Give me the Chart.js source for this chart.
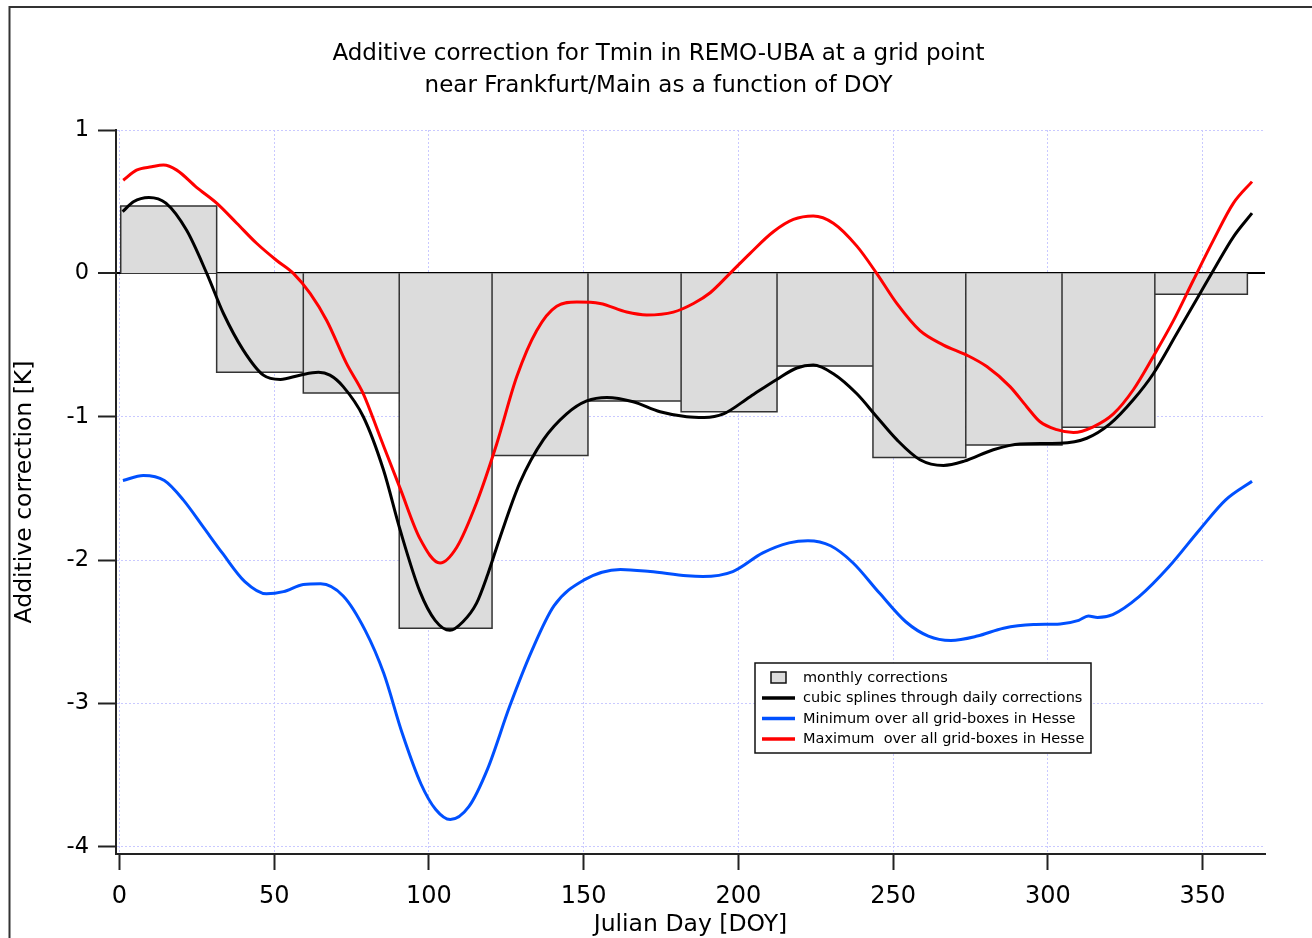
<!DOCTYPE html>
<html><head><meta charset="utf-8">
<script src="https://cdn.jsdelivr.net/npm/chart.js@4/dist/chart.umd.min.js"></script>
<style>html,body{margin:0;padding:0;background:#fff;overflow:hidden}canvas{display:block}</style>
</head><body><canvas id="c" width="1312" height="938"></canvas>
<script>
// ---------------- data ----------------
const titleLines = ["Additive correction for Tmin in REMO-UBA at a grid point", "near Frankfurt/Main as a function of DOY"];
const xTitle = "Julian Day [DOY]";
const yTitle = "Additive correction [K]";
const legendLabels = ["monthly corrections", "cubic splines through daily corrections", "Minimum over all grid-boxes in Hesse", "Maximum  over all grid-boxes in Hesse"];

// month boundaries (DOY) and monthly correction values (K)
const monthEdges = [0.4, 31.4, 59.4, 90.4, 120.4, 151.4, 181.5, 212.5, 243.5, 273.5, 304.6, 334.6, 364.5];
const monthlyCorrections = [0.47, -0.69, -0.835, -2.475, -1.27, -0.89, -0.965, -0.646, -1.285, -1.197, -1.074, -0.146];

const splineDays = [1, 4.5, 9.5, 15, 21.7, 28.2, 33.6, 40, 46.5, 52, 58.3, 64.3, 68, 72.3, 78.8, 85.3, 90.7, 97.1, 102, 106.8, 111, 115.4, 119, 123, 129.4, 137, 144.5, 151, 157.5, 166, 174.7, 183.3, 189, 195.2, 203.8, 212.4, 218.9, 224.2, 230.7, 238.3, 244.7, 251.2, 258.7, 266.3, 273, 282.4, 291, 303.9, 312.6, 320.1, 327.7, 334.1, 341.7, 349.2, 353.5, 360, 366];
const splineValues = [0.43, 0.50, 0.53, 0.49, 0.30, 0.0, -0.28, -0.535, -0.71, -0.74, -0.71, -0.69, -0.71, -0.79, -1.0, -1.37, -1.79, -2.22, -2.42, -2.49, -2.43, -2.30, -2.10, -1.84, -1.46, -1.16, -0.98, -0.89, -0.865, -0.895, -0.965, -1.0, -1.005, -0.98, -0.86, -0.74, -0.66, -0.64, -0.70, -0.84, -1.0, -1.16, -1.30, -1.34, -1.31, -1.23, -1.19, -1.185, -1.15, -1.05, -0.88, -0.70, -0.42, -0.14, 0.02, 0.255, 0.42];

const minDays = [1.1, 7.7, 14.5, 20.6, 27.1, 33.2, 40.5, 47.5, 53, 59.4, 65, 72.3, 79.4, 85.4, 91.4, 97.4, 102.2, 106.9, 112.9, 118.9, 126.1, 133.3, 140.4, 150, 161.9, 171.5, 183.4, 188.5, 198.2, 207.9, 216.4, 222.5, 229.8, 237.1, 245.6, 254.1, 261.4, 268.7, 277.2, 285.7, 295.4, 304, 310, 313.1, 316.1, 321, 329.5, 339.2, 349, 357.5, 366];
const minValues = [-1.445, -1.41, -1.445, -1.58, -1.77, -1.95, -2.15, -2.235, -2.22, -2.17, -2.165, -2.25, -2.49, -2.79, -3.21, -3.56, -3.74, -3.81, -3.72, -3.46, -3.02, -2.63, -2.32, -2.14, -2.065, -2.08, -2.11, -2.115, -2.08, -1.95, -1.88, -1.865, -1.90, -2.02, -2.23, -2.43, -2.53, -2.56, -2.53, -2.475, -2.45, -2.445, -2.42, -2.39, -2.40, -2.38, -2.255, -2.045, -1.79, -1.58, -1.45];

const maxDays = [1.2, 5.5, 10.4, 14.2, 18.5, 24.9, 31.4, 37.9, 44.3, 50.8, 56.2, 61.6, 67, 73.4, 78.8, 84.2, 90.7, 97.1, 103.6, 109, 115.4, 121.9, 128.4, 134.8, 141.3, 147.8, 155.3, 163.9, 170.4, 179, 185.5, 190.9, 197.3, 203.8, 211.3, 217.8, 224.2, 230.7, 238.3, 244.7, 251.2, 258.7, 266.3, 273.8, 280.3, 287.8, 293.2, 297.5, 302.9, 308.3, 314.7, 321.2, 327.7, 334.1, 340.6, 347, 353.5, 360, 366];
const maxValues = [0.65, 0.72, 0.743, 0.755, 0.72, 0.60, 0.49, 0.35, 0.21, 0.09, 0.0, -0.14, -0.33, -0.63, -0.84, -1.14, -1.50, -1.85, -2.02, -1.91, -1.60, -1.19, -0.72, -0.40, -0.23, -0.20, -0.21, -0.27, -0.29, -0.27, -0.21, -0.135, 0.0, 0.14, 0.29, 0.376, 0.40, 0.35, 0.19, 0.0, -0.21, -0.40, -0.50, -0.57, -0.65, -0.79, -0.93, -1.035, -1.09, -1.11, -1.07, -0.98, -0.81, -0.58, -0.33, -0.05, 0.23, 0.49, 0.64];

const xTicks = [0, 50, 100, 150, 200, 250, 300, 350];
const yTicks = [-4, -3, -2, -1, 0, 1];

// ---------------- build ----------------
const FONT = "'DejaVu Sans', Verdana, sans-serif";
const colors = { bars: '#dcdcdc', barEdge: '#333333', spline: '#000000', min: '#0050ff', max: '#ff0000', grid: '#c9c9ff' };

const barPath = [];
monthlyCorrections.forEach((v, i) => {
  const a = monthEdges[i], b = monthEdges[i + 1];
  barPath.push({x: a, y: 0}, {x: a, y: v}, {x: b, y: v}, {x: b, y: 0});
});
const pts = (xs, ys) => xs.map((x, i) => ({x, y: ys[i]}));

const frameAndLegend = {
  id: 'frameAndLegend',
  beforeDraw(chart) {
    const ctx = chart.ctx;
    ctx.save();
    ctx.fillStyle = '#fff';
    ctx.fillRect(0, 0, chart.width, chart.height);
    ctx.strokeStyle = '#333';
    ctx.lineWidth = 2;
    ctx.beginPath();
    ctx.moveTo(9.5, chart.height); ctx.lineTo(9.5, 7); ctx.lineTo(chart.width, 7);
    ctx.stroke();
    ctx.restore();
  },
  afterDraw(chart) {
    const ctx = chart.ctx;
    const ds = chart.data.datasets.filter(d => d.legendIndex !== undefined).sort((a, b) => a.legendIndex - b.legendIndex);
    const bx = 755, by = 663, bw = 336, bh = 90;
    ctx.save();
    ctx.fillStyle = '#fff';
    ctx.fillRect(bx, by, bw, bh);
    ctx.strokeStyle = '#111';
    ctx.lineWidth = 1.5;
    ctx.strokeRect(bx, by, bw, bh);
    ctx.font = "14.5px " + FONT;
    ctx.textBaseline = 'middle';
    ctx.textAlign = 'left';
    ds.forEach((d, i) => {
      const y = by + 14.5 + i * 20.5;
      if (d.legendBox) {
        ctx.fillStyle = d.backgroundColor;
        ctx.fillRect(771, y - 5.5, 15, 11);
        ctx.strokeStyle = '#111';
        ctx.lineWidth = 1.5;
        ctx.strokeRect(771, y - 5.5, 15, 11);
      } else {
        ctx.strokeStyle = d.borderColor;
        ctx.lineWidth = 3.5;
        ctx.beginPath(); ctx.moveTo(762, y); ctx.lineTo(795, y); ctx.stroke();
      }
      ctx.fillStyle = '#000';
      ctx.fillText(d.label, 803, y + 0.5);
    });
    ctx.restore();
  }
};

const isZero = c => c.tick && c.tick.value === 0;

new Chart(document.getElementById('c'), {
  type: 'line',
  data: {
    datasets: [
      { label: legendLabels[3], legendIndex: 3, data: pts(maxDays, maxValues), borderColor: colors.max, borderWidth: 3, pointRadius: 0, cubicInterpolationMode: 'monotone', fill: false, order: 1 },
      { label: legendLabels[2], legendIndex: 2, data: pts(minDays, minValues), borderColor: colors.min, borderWidth: 3, pointRadius: 0, cubicInterpolationMode: 'monotone', fill: false, order: 2 },
      { label: legendLabels[1], legendIndex: 1, data: pts(splineDays, splineValues), borderColor: colors.spline, borderWidth: 3, pointRadius: 0, cubicInterpolationMode: 'monotone', fill: false, order: 3 },
      { label: legendLabels[0], legendIndex: 0, legendBox: true, data: barPath, borderColor: colors.barEdge, backgroundColor: colors.bars, borderWidth: 1.5, pointRadius: 0, tension: 0, fill: 'origin', order: 5 }
    ]
  },
  options: {
    responsive: false,
    animation: false,
    devicePixelRatio: 1,
    layout: { padding: { left: 5, right: 0, top: 0, bottom: 0 } },
    plugins: {
      legend: { display: false },
      tooltip: { enabled: false },
      title: {
        display: true, text: titleLines, color: '#000',
        font: { family: FONT, size: 23, weight: 'normal', lineHeight: 32 / 23 },
        padding: { top: 38, bottom: 28 }
      }
    },
    scales: {
      x: {
        type: 'linear', position: 'bottom', min: -1.13, max: 370.2,
        afterFit: s => { s.height = 84; },
        afterBuildTicks: s => { s.ticks = xTicks.map(v => ({value: v})); },
        ticks: { stepSize: 50, includeBounds: false, color: '#000', padding: 12, font: { family: FONT, size: 24 }, maxRotation: 0 },
        grid: { color: colors.grid, lineWidth: 1, tickColor: '#222', tickWidth: 2, tickLength: 16, tickBorderDash: [], borderDash: [2, 2] },
        border: { display: true, color: '#222', width: 2, dash: [2, 2] },
        title: { display: true, text: xTitle, color: '#000', font: { family: FONT, size: 23.5, lineHeight: 1 }, padding: { top: 0, bottom: 1 } }
      },
      y: {
        type: 'linear', position: 'left', min: -4.05, max: 1,
        afterFit: s => { s.width = 111; },
        afterBuildTicks: s => { s.ticks = yTicks.map(v => ({value: v})); },
        ticks: { stepSize: 1, includeBounds: false, color: '#000', padding: 9, font: { family: FONT, size: 22.5 } },
        grid: {
          color: c => isZero(c) ? '#000' : colors.grid,
          lineWidth: c => isZero(c) ? 2 : 1,
          tickColor: '#222', tickWidth: 2, tickLength: 18, tickBorderDash: [],
          borderDash: c => isZero(c) ? [] : [2, 2]
        },
        border: { display: true, color: '#222', width: 2, dash: c => isZero(c) ? [] : [2, 2] },
        title: { display: true, text: yTitle, color: '#000', font: { family: FONT, size: 23.5, lineHeight: 1.2 }, padding: { top: 6, bottom: 0 } }
      },
      yRight: {
        type: 'linear', position: 'right', min: -4.05, max: 1,
        afterFit: s => { s.width = 47; },
        ticks: { display: false },
        grid: { display: false, drawOnChartArea: false },
        border: { display: false }
      }
    }
  },
  plugins: [frameAndLegend]
});
</script>
</body></html>
